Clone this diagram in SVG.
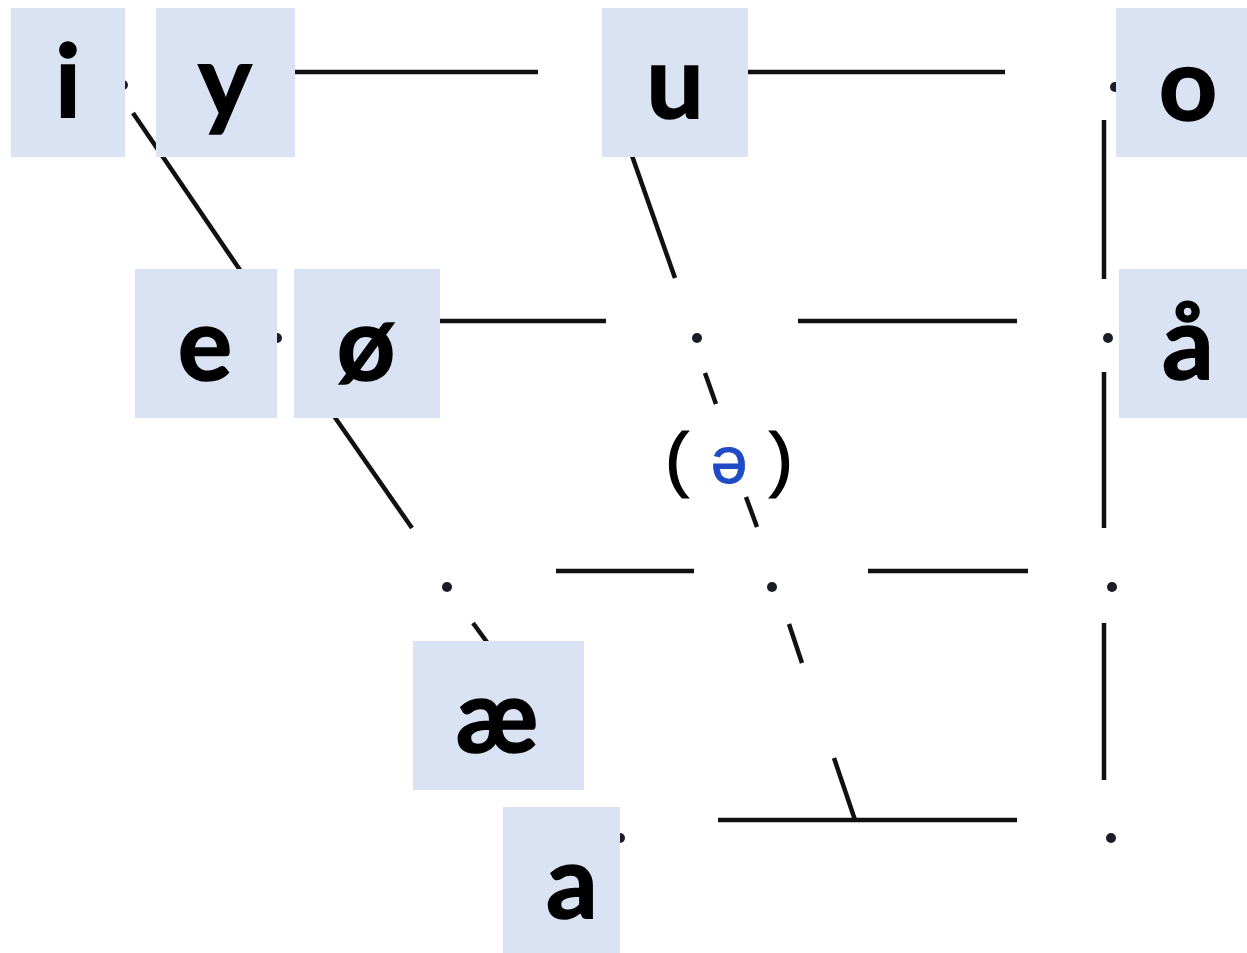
<svg xmlns="http://www.w3.org/2000/svg" width="1247" height="953" viewBox="0 0 1247 953">
<style>
.ln{stroke:#111;stroke-width:4.5;fill:none;stroke-linecap:butt}
.dot{fill:#1c1c28}
.box{fill:#dae3f3}
.v{font-family:"Lato","Open Sans",sans-serif;font-weight:700;font-size:102px;fill:#000;text-anchor:middle;stroke:#000;stroke-width:1.5}
.par{font-family:"Liberation Sans","DejaVu Sans",sans-serif;font-size:72px;fill:#000;text-anchor:middle;stroke:#000;stroke-width:1.2}
.schwa{font-family:"Liberation Sans","DejaVu Sans",sans-serif;font-size:66px;fill:#1f4cc4;text-anchor:middle;stroke:#1f4cc4;stroke-width:0.8}
</style>
<rect width="1247" height="953" fill="#fff"/>
<g id="connectors">
<line class="ln" x1="295" y1="72" x2="538" y2="72"/>
<line class="ln" x1="748" y1="72" x2="1005" y2="72"/>
<line class="ln" x1="440" y1="321" x2="606" y2="321"/>
<line class="ln" x1="798" y1="321" x2="1017" y2="321"/>
<line class="ln" x1="556" y1="571" x2="694" y2="571"/>
<line class="ln" x1="868" y1="571" x2="1028" y2="571"/>
<line class="ln" x1="718" y1="820" x2="1017" y2="820"/>
<line class="ln" x1="1104" y1="120" x2="1104" y2="279"/>
<line class="ln" x1="1104" y1="372" x2="1104" y2="528"/>
<line class="ln" x1="1104" y1="623" x2="1104" y2="780"/>
<line class="ln" x1="133" y1="113" x2="240" y2="270"/>
<line class="ln" x1="320" y1="396" x2="412" y2="528"/>
<line class="ln" x1="473" y1="623" x2="500" y2="660"/>
<line class="ln" x1="630" y1="150" x2="675" y2="278"/>
<line class="ln" x1="705" y1="373" x2="716" y2="404"/>
<line class="ln" x1="746" y1="497" x2="757" y2="527"/>
<line class="ln" x1="789" y1="624" x2="802" y2="663"/>
<line class="ln" x1="834" y1="758" x2="855" y2="820"/>
</g>
<g id="points">
<circle class="dot" cx="123" cy="85" r="5"/>
<circle class="dot" cx="1115" cy="87" r="5"/>
<circle class="dot" cx="277" cy="338" r="5"/>
<circle class="dot" cx="697" cy="338" r="5"/>
<circle class="dot" cx="1108" cy="338" r="5"/>
<circle class="dot" cx="447" cy="587" r="5"/>
<circle class="dot" cx="772" cy="587" r="5"/>
<circle class="dot" cx="1112" cy="587" r="5"/>
<circle class="dot" cx="620" cy="838" r="5"/>
<circle class="dot" cx="1111" cy="838" r="5"/>
</g>
<g id="node-i"><rect class="box" x="11" y="8" width="114" height="149"/><text class="v" x="68" y="117">i</text></g>
<g id="node-y"><rect class="box" x="156" y="8" width="139" height="149"/><text class="v" x="225" y="117">y</text></g>
<g id="node-u"><rect class="box" x="602" y="8" width="146" height="149"/><text class="v" x="675" y="118">u</text></g>
<g id="node-o"><rect class="box" x="1116" y="8" width="131" height="149"/><text class="v" x="1188" y="120">o</text></g>
<g id="node-e"><rect class="box" x="135" y="269" width="142" height="149"/><text class="v" x="205" y="380">e</text></g>
<g id="node-oslash"><rect class="box" x="294" y="269" width="146" height="149"/><text class="v" x="366" y="380">ø</text></g>
<g id="node-aring"><rect class="box" x="1119" y="269" width="128" height="149"/><text class="v" x="1188" y="379">å</text></g>
<g id="node-ae"><rect class="box" x="413" y="641" width="171" height="149"/><text class="v" x="497" y="752">æ</text></g>
<g id="node-a"><rect class="box" x="503" y="807" width="117" height="146"/><text class="v" x="572" y="918">a</text></g>
<g id="node-schwa">
<text class="par" x="677" y="483">(</text>
<text class="schwa" x="729" y="483">ə</text>
<text class="par" x="781" y="483">)</text>
</g>
</svg>
